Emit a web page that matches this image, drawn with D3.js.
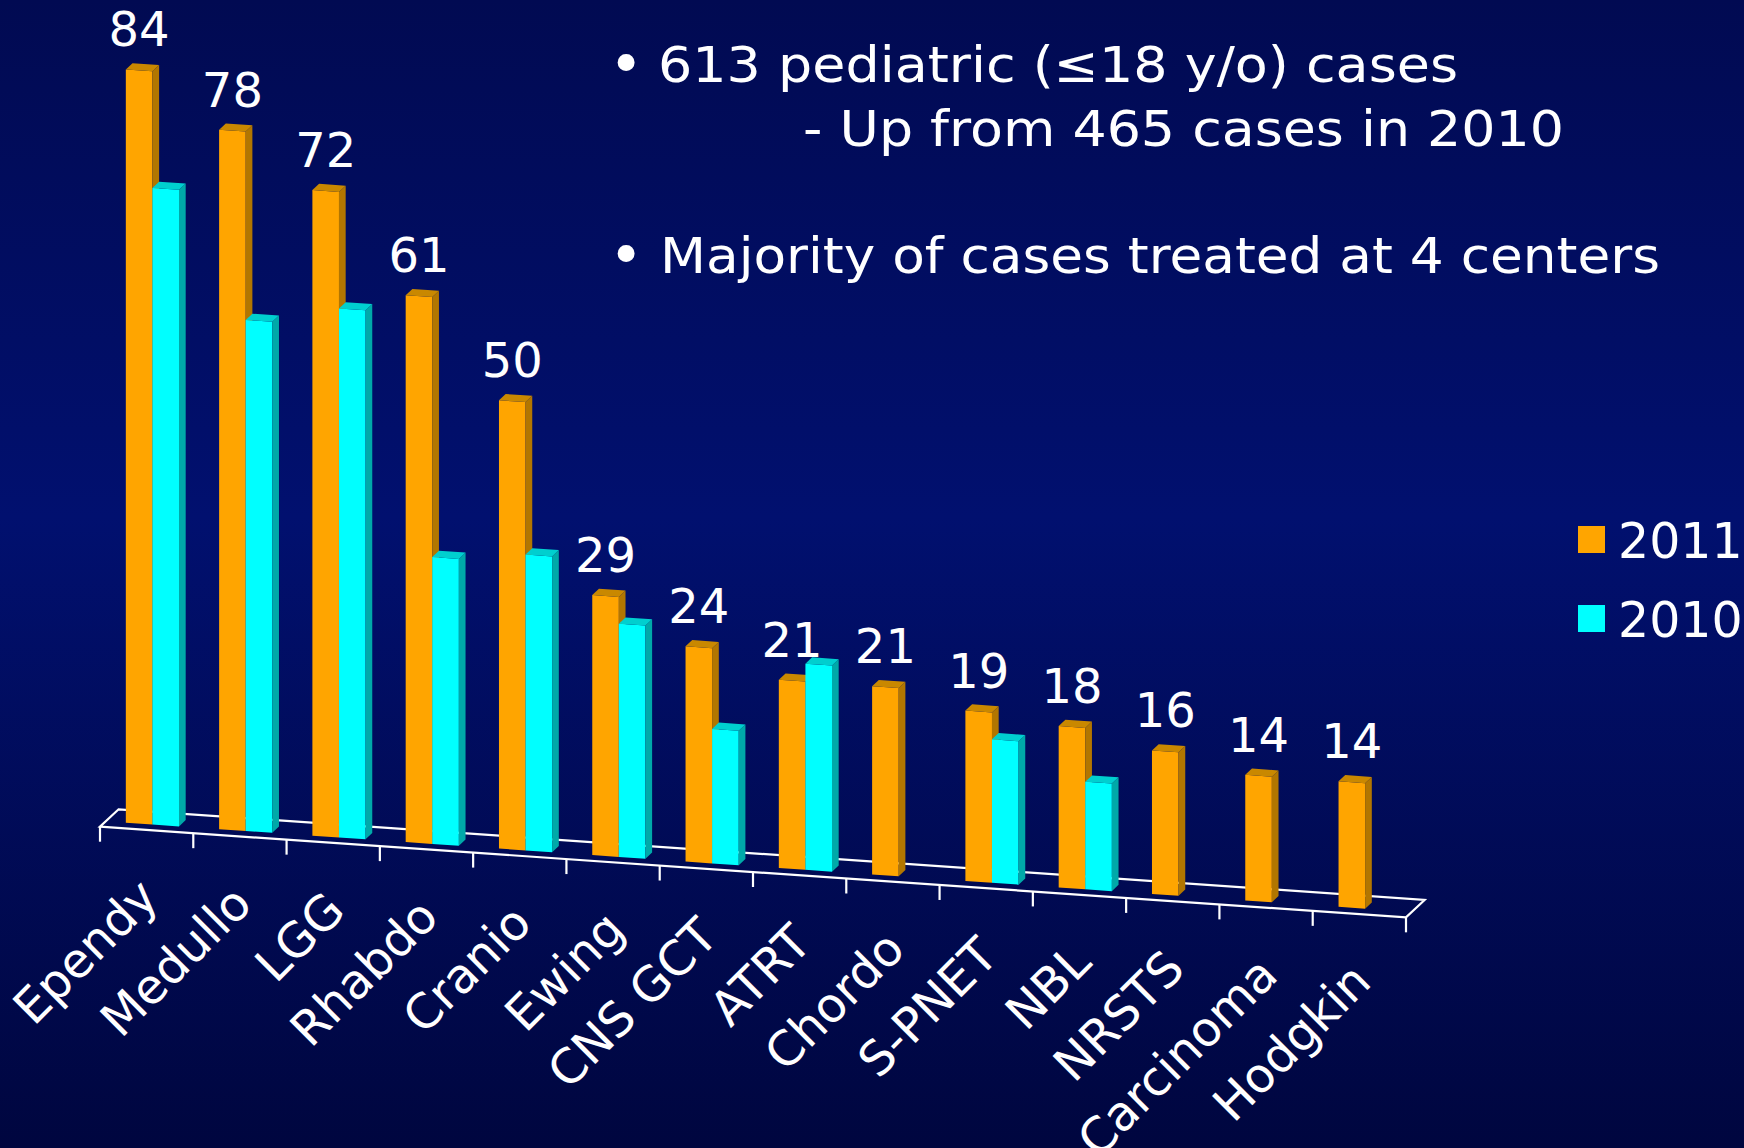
<!DOCTYPE html>
<html>
<head>
<meta charset="utf-8">
<script src="https://cdn.jsdelivr.net/npm/d3@7"></script>
<style>
  html, body { margin: 0; padding: 0; background: #000a55; }
  svg { display: block; }
  text { font-family: "DejaVu Sans", Verdana, sans-serif; fill: #ffffff; }
</style>
</head>
<body>
<svg id="chart" width="1744" height="1148"></svg>
<script>
// ---------------- data ----------------
const categories = ["Ependy", "Medullo", "LGG", "Rhabdo", "Cranio", "Ewing", "CNS GCT",
                    "ATRT", "Chordo", "S-PNET", "NBL", "NRSTS", "Carcinoma", "Hodgkin"];
const seriesNames = ["2011", "2010"];
const values2011 = [84, 78, 72, 61, 50, 29, 24, 21, 21, 19, 18, 16, 14, 14];
const values2010 = [71, 57, 59, 32, 33, 26, 15, 23, null, 16, 12, null, null, null];
const annotationLines = [
  "613 pediatric (\u226418 y/o) cases",
  "- Up from 465 cases in 2010",
  "Majority of cases treated at 4 centers"
];

// ---------------- layout / style ----------------
const W = 1744, H = 1148;
const ORIGIN_X = 100, ORIGIN_Y = 826.7;   // front-left corner of the floor
const FLOOR_LEN = 1306;                    // length of the floor along the category axis
const SLOPE = 0.0694;                      // screen drop per pixel along the category axis
const DEPTH_X = 18.6, DEPTH_Y = -17.4;     // screen offset of full floor depth
const BAR_F0 = 0.31, BAR_F1 = 0.67;        // bar front/back position within floor depth
const colors = {
  "2011": { front: "#FFA500", side: "#B27600", top: "#C98800" },
  "2010": { front: "#00FFFF", side: "#00A9A9", top: "#00CFCF" }
};

const svg = d3.select("#chart");

// background gradient
const defs = svg.append("defs");
const grad = defs.append("linearGradient").attr("id", "bg")
  .attr("x1", 0).attr("y1", 0).attr("x2", 0).attr("y2", 1);
grad.append("stop").attr("offset", "0").attr("stop-color", "#010a52");
grad.append("stop").attr("offset", "0.45").attr("stop-color", "#01106f");
grad.append("stop").attr("offset", "1").attr("stop-color", "#00063f");
svg.append("rect").attr("width", W).attr("height", H).attr("fill", "url(#bg)");

// scales
const x = d3.scaleBand().domain(categories).range([0, FLOOR_LEN])
  .paddingInner(0.43).paddingOuter(0.215);
const xs = d3.scaleBand().domain(seriesNames).range([0, x.bandwidth()]);
const y = d3.scaleLinear().domain([0, 90]).range([0, 807.0]);

// oblique projection: a = distance along category axis, f = depth fraction, v = value
function P(a, f, v) {
  return [ORIGIN_X + a + f * DEPTH_X, ORIGIN_Y + a * SLOPE + f * DEPTH_Y - y(v)];
}
const poly = pts => "M" + pts.map(p => p[0].toFixed(2) + "," + p[1].toFixed(2)).join("L") + "Z";

// floor outline
const floorG = svg.append("g");
floorG.append("path")
  .attr("d", poly([P(0, 0, 0), P(FLOOR_LEN, 0, 0), P(FLOOR_LEN, 1, 0), P(0, 1, 0)]))
  .attr("fill", "none").attr("stroke", "#ffffff").attr("stroke-width", 2.2)
  .attr("stroke-linejoin", "miter");

// tick marks at category boundaries
const boundaries = categories.map(c => x(c) - x.paddingOuter() * x.step()).concat([FLOOR_LEN]);
floorG.selectAll("line.tick").data(boundaries).enter().append("line")
  .attr("class", "tick")
  .attr("x1", d => P(d, 0, 0)[0]).attr("y1", d => P(d, 0, 0)[1])
  .attr("x2", d => P(d, 0, 0)[0]).attr("y2", d => P(d, 0, 0)[1] + 15)
  .attr("stroke", "#ffffff").attr("stroke-width", 2.2);

// bars (drawn left to right, 2011 before 2010)
const barData = [];
categories.forEach((c, i) => {
  [["2011", values2011[i]], ["2010", values2010[i]]].forEach(([s, v]) => {
    if (v != null && v > 0) barData.push({ cat: c, series: s, value: v });
  });
});

const barG = svg.append("g");
const bars = barG.selectAll("g.bar").data(barData).enter().append("g").attr("class", "bar");
bars.each(function(d) {
  const g = d3.select(this);
  const a0 = x(d.cat) + xs(d.series), a1 = a0 + xs.bandwidth();
  const col = colors[d.series];
  g.append("path").attr("d", poly([P(a0, BAR_F0, 0), P(a1, BAR_F0, 0), P(a1, BAR_F0, d.value), P(a0, BAR_F0, d.value)]))
    .attr("fill", col.front);
  g.append("path").attr("d", poly([P(a1, BAR_F0, 0), P(a1, BAR_F1, 0), P(a1, BAR_F1, d.value), P(a1, BAR_F0, d.value)]))
    .attr("fill", col.side);
  g.append("path").attr("d", poly([P(a0, BAR_F0, d.value), P(a1, BAR_F0, d.value), P(a1, BAR_F1, d.value), P(a0, BAR_F1, d.value)]))
    .attr("fill", col.top);
});

// value labels for 2011
svg.append("g").selectAll("text").data(categories).enter().append("text")
  .attr("x", (c, i) => P(x(c) + xs("2011") + xs.bandwidth() / 2, BAR_F0, values2011[i])[0])
  .attr("y", (c, i) => P(x(c) + xs("2011") + xs.bandwidth() / 2, BAR_F0, values2011[i])[1] - 24)
  .attr("text-anchor", "middle")
  .attr("font-size", 48)
  .text((c, i) => values2011[i]);

// category labels (rotated)
svg.append("g").selectAll("text").data(categories).enter().append("text")
  .attr("transform", c => {
    const p = P(x(c) + x.bandwidth() / 2, 0, 0);
    return `translate(${(p[0] + 14).toFixed(2)},${(p[1] + 70).toFixed(2)}) rotate(-45)`;
  })
  .attr("text-anchor", "end")
  .attr("font-size", 48)
  .text(c => c);

// legend
const legend = svg.append("g");
const legendItems = [{ s: "2011", y: 526 }, { s: "2010", y: 605 }];
legend.selectAll("rect").data(legendItems).enter().append("rect")
  .attr("x", 1578).attr("y", d => d.y).attr("width", 27).attr("height", 27)
  .attr("fill", d => colors[d.s].front);
legend.selectAll("text").data(legendItems).enter().append("text")
  .attr("x", 1618).attr("y", d => d.y + 32)
  .attr("font-size", 49)
  .text(d => d.s);

// annotation text
const ann = svg.append("g");
ann.append("text").attr("x", 609).attr("y", 84).attr("font-size", 58).text("\u2022");
ann.append("text").attr("x", 658).attr("y", 82).attr("font-size", 50)
  .attr("textLength", 800).attr("lengthAdjust", "spacingAndGlyphs").text(annotationLines[0]);
ann.append("text").attr("x", 803).attr("y", 146).attr("font-size", 50)
  .attr("textLength", 761).attr("lengthAdjust", "spacingAndGlyphs").text(annotationLines[1]);
ann.append("text").attr("x", 609).attr("y", 275).attr("font-size", 58).text("\u2022");
ann.append("text").attr("x", 660).attr("y", 273).attr("font-size", 50)
  .attr("textLength", 1000).attr("lengthAdjust", "spacingAndGlyphs").text(annotationLines[2]);
</script>
</body>
</html>
